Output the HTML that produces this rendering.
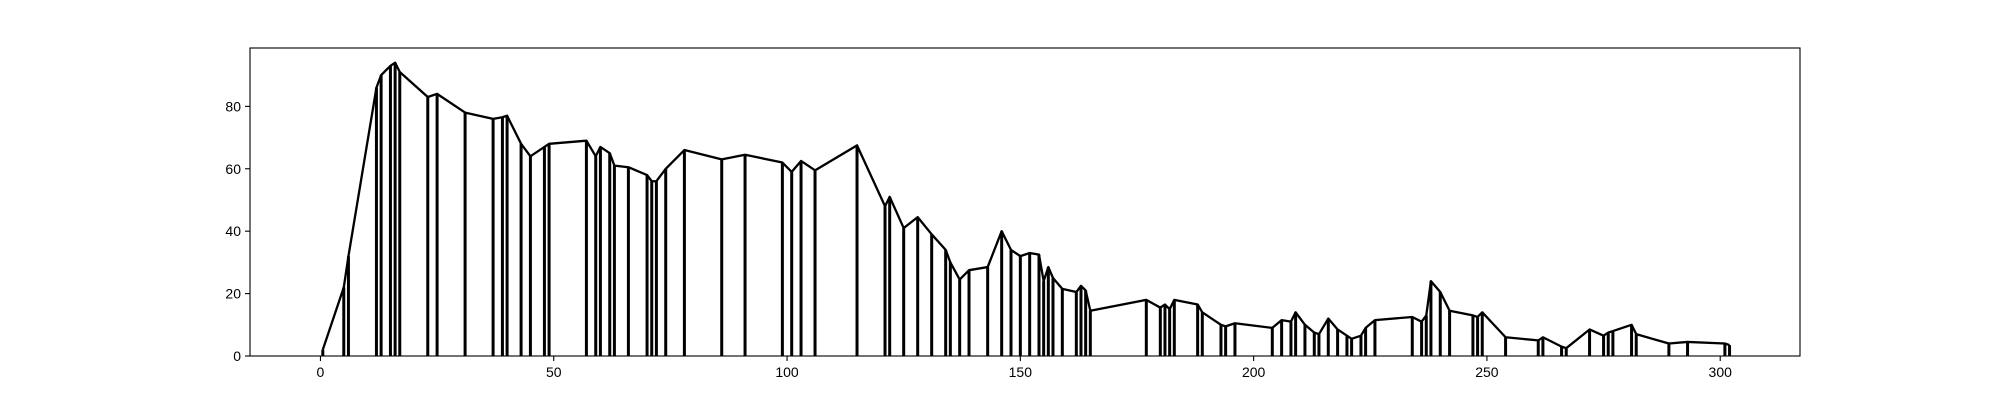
<!DOCTYPE html>
<html><head><meta charset="utf-8"><style>
html,body{margin:0;padding:0;background:#fff;}
svg{display:block;font-family:"Liberation Sans","DejaVu Sans",sans-serif;}
</style></head><body>
<svg id="chart" width="2000" height="400"></svg>
<script>
const xs = [0.5,5,6,12,13,15,16,17,23,25,31,37,39,40,43,45,48,49,57,59,60,62,63,66,70,71,72,74,78,86,91,99,101,103,106,115,121,122,125,128,131,134,135,137,139,143,146,148,150,152,154,155,156,157,159,162,163,164,165,177,180,181,182,183,188,189,193,194,196,204,206,208,209,211,213,214,216,218,220,221,223,224,226,234,236,237,238,240,242,247,248,249,254,261,262,266,267,272,275,276,277,281,282,289,293,301,302];
const ys = [2,22,32,86,90,93,94,91,83,84,78,76,76.5,77,68,64,67,68,69,64,67,65,61,60.5,58,56,56,60,66,63,64.5,62,59,62.5,59.5,67.5,48,51,41,44.5,39,34,30,24.5,27.5,28.5,40,34,32,33,32.5,24,28.5,25,21.5,20.5,22.5,21,14.5,18,15.5,16.5,15,18,16.5,14,10,9.5,10.5,9,11.5,11,14,10,7.5,7,12,8.5,6.5,5.5,6.5,9,11.5,12.5,11,13,24,20.5,14.5,13,12.5,14,6,5,6,3,2.5,8.5,6.5,7.5,8,10,7,4,4.5,4,3.5];
const xTicks = [0,50,100,150,200,250,300];
const yTicks = [0,20,40,60,80];

const L=250,R=1800,T=48,B=356;
const xmin=-15.1,xmax=317.1,ymin=0,ymax=98.7;
const sx=v=>L+(v-xmin)/(xmax-xmin)*(R-L);
const sy=v=>B-(v-ymin)/(ymax-ymin)*(B-T);
const NS="http://www.w3.org/2000/svg";
const svg=document.getElementById('chart');
function mk(t,a){const e=document.createElementNS(NS,t);for(const k in a)e.setAttribute(k,a[k]);return e;}

const g=mk('g',{});


svg.appendChild(g);
xs.forEach((x,i)=>{
  const l=mk('line',{x1:sx(x),x2:sx(x),y1:sy(0),y2:sy(ys[i]),stroke:'#000','stroke-width':3});
  
  
  g.appendChild(l);
});
const pl=mk('polyline',{points:xs.map((x,i)=>sx(x)+','+sy(ys[i])).join(' '),fill:'none',stroke:'#000','stroke-width':2.3,'stroke-linejoin':'round'});


g.appendChild(pl);

const frame=mk('rect',{x:L,y:T,width:R-L,height:B-T,fill:'none',stroke:'#000','stroke-width':1.1});


svg.appendChild(frame);

xTicks.forEach(v=>{
  const t=mk('line',{x1:sx(v),x2:sx(v),y1:B,y2:B+5,stroke:'#000','stroke-width':1.1});
  
  
  svg.appendChild(t);
  const tx=mk('text',{x:sx(v),y:B+21,'text-anchor':'middle','font-size':14});
  tx.textContent=v;
  
  
  svg.appendChild(tx);
});
yTicks.forEach(v=>{
  const t=mk('line',{x1:L-5,x2:L,y1:sy(v),y2:sy(v),stroke:'#000','stroke-width':1.1});
  
  
  svg.appendChild(t);
  const tx=mk('text',{x:L-9,y:sy(v)+5,'text-anchor':'end','font-size':14});
  tx.textContent=v;
  
  
  svg.appendChild(tx);
});
</script>
</body></html>
